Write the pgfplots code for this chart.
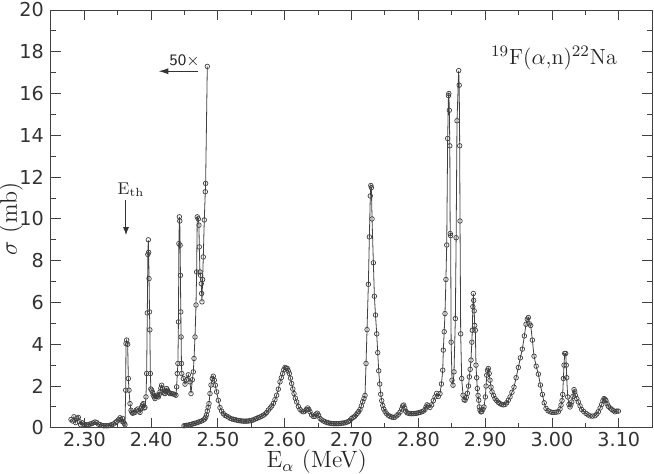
\documentclass[border=0pt]{standalone}
\usepackage{fontspec}
\usepackage{pgfplots}
\pgfplotsset{compat=1.18}
\usetikzlibrary{arrows.meta}
\newfontfamily\tickfont{DejaVu Sans}
\pgfplotstableread{
x y
2.2800 0.40
2.2824 0.33
2.2844 0.53
2.2869 0.25
2.2890 0.45
2.2909 0.50
2.2924 0.30
2.2944 0.15
2.2969 0.24
2.2990 0.18
2.3009 0.15
2.3034 0.14
2.3059 0.15
2.3084 0.18
2.3109 0.20
2.3134 0.24
2.3159 0.28
2.3184 0.25
2.3209 0.18
2.3234 0.15
2.3259 0.12
2.3284 0.10
2.3309 0.10
2.3334 0.10
2.3358 0.10
2.3383 0.12
2.3408 0.15
2.3433 0.18
2.3458 0.24
2.3483 0.30
2.3508 0.38
2.3533 0.48
2.3545 0.40
2.3558 0.32
2.3571 0.45
2.3583 0.28
2.3596 0.22
2.3608 0.15
2.3618 1.80
2.3623 4.03
2.3633 4.20
2.3648 4.00
2.3658 2.36
2.3668 1.80
2.3683 1.16
2.3698 0.84
2.3710 0.75
2.3723 0.70
2.3740 0.72
2.3758 0.74
2.3778 0.85
2.3798 0.90
2.3815 0.80
2.3833 0.74
2.3845 0.90
2.3858 1.00
2.3870 1.10
2.3882 1.16
2.3895 0.95
2.3907 0.98
2.3922 1.48
2.3932 2.60
2.3942 5.50
2.3950 8.30
2.3957 9.00
2.3962 8.40
2.3968 7.14
2.3975 5.55
2.3980 4.69
2.3988 2.60
2.3995 1.86
2.4007 1.80
2.4020 1.70
2.4032 1.56
2.4045 1.48
2.4057 1.40
2.4070 1.50
2.4082 1.56
2.4095 1.52
2.4107 1.48
2.4120 1.60
2.4132 1.72
2.4145 1.90
2.4157 2.04
2.4170 1.90
2.4182 1.72
2.4195 1.66
2.4207 1.64
2.4219 1.76
2.4231 1.88
2.4244 1.80
2.4256 1.72
2.4268 1.68
2.4281 1.64
2.4306 1.64
2.4331 1.62
2.4351 1.60
2.4371 1.56
2.4381 1.96
2.4391 2.60
2.4400 3.08
2.4408 5.07
2.4415 8.82
2.4422 10.10
2.4428 9.90
2.4433 8.74
2.4438 7.30
2.4443 5.55
2.4448 4.35
2.4453 3.08
2.4458 2.60
2.4481 2.36
2.4506 2.09
2.4531 2.30
2.4556 2.54
2.4581 2.20
2.4596 1.64
2.4616 2.30
2.4631 2.68
2.4641 3.32
2.4656 4.35
2.4671 5.88
2.4680 7.46
2.4690 10.10
2.4705 10.00
2.4715 9.70
2.4720 8.66
2.4730 7.46
2.4740 7.30
2.4750 6.90
2.4755 6.43
2.4760 6.03
2.4770 7.10
2.4780 8.18
2.4795 9.95
2.4810 11.30
2.4815 11.70
2.4840 17.30
}\lowdata
\pgfplotstableread{
x y
2.4491 0.10
2.4511 0.11
2.4531 0.12
2.4556 0.13
2.4581 0.15
2.4606 0.17
2.4631 0.20
2.4656 0.22
2.4680 0.24
2.4705 0.27
2.4730 0.30
2.4755 0.33
2.4780 0.37
2.4800 0.42
2.4815 0.50
2.4828 0.62
2.4840 0.80
2.4853 0.98
2.4865 1.16
2.4880 1.64
2.4895 2.05
2.4915 2.36
2.4930 2.47
2.4945 2.28
2.4960 2.04
2.4980 1.72
2.5005 1.32
2.5030 0.97
2.5055 0.80
2.5080 0.68
2.5105 0.60
2.5130 0.56
2.5155 0.52
2.5180 0.46
2.5205 0.43
2.5230 0.41
2.5254 0.39
2.5280 0.37
2.5305 0.35
2.5329 0.34
2.5355 0.33
2.5380 0.32
2.5405 0.32
2.5430 0.32
2.5455 0.33
2.5479 0.34
2.5505 0.36
2.5530 0.38
2.5555 0.42
2.5579 0.45
2.5605 0.49
2.5630 0.52
2.5655 0.56
2.5679 0.60
2.5705 0.66
2.5730 0.74
2.5754 0.85
2.5780 0.95
2.5805 1.05
2.5829 1.17
2.5853 1.35
2.5878 1.56
2.5903 1.85
2.5928 2.20
2.5948 2.40
2.5968 2.60
2.5985 2.78
2.6003 2.89
2.6020 2.86
2.6038 2.84
2.6053 2.72
2.6068 2.60
2.6085 2.38
2.6103 2.12
2.6120 1.86
2.6138 1.64
2.6158 1.42
2.6178 1.24
2.6203 1.02
2.6228 0.88
2.6255 0.80
2.6280 0.77
2.6302 0.80
2.6322 0.88
2.6342 0.95
2.6360 0.88
2.6377 0.77
2.6402 0.62
2.6427 0.55
2.6450 0.55
2.6470 0.66
2.6487 0.70
2.6505 0.60
2.6527 0.45
2.6552 0.38
2.6577 0.33
2.6602 0.29
2.6627 0.26
2.6652 0.24
2.6677 0.22
2.6702 0.21
2.6727 0.20
2.6752 0.20
2.6776 0.20
2.6801 0.20
2.6826 0.21
2.6851 0.22
2.6876 0.23
2.6901 0.24
2.6926 0.27
2.6951 0.30
2.6976 0.36
2.7001 0.45
2.7026 0.50
2.7046 0.55
2.7066 0.62
2.7086 0.70
2.7106 0.78
2.7126 0.88
2.7146 1.05
2.7166 1.25
2.7185 1.40
2.7201 1.55
2.7216 3.08
2.7231 4.70
2.7251 6.87
2.7266 9.14
2.7280 11.10
2.7288 11.60
2.7296 11.50
2.7306 10.00
2.7326 7.90
2.7341 6.30
2.7358 5.40
2.7376 4.50
2.7391 3.60
2.7406 2.73
2.7421 2.10
2.7436 1.61
2.7451 1.30
2.7466 1.07
2.7481 0.90
2.7501 0.78
2.7526 0.67
2.7551 0.60
2.7575 0.55
2.7600 0.52
2.7625 0.50
2.7650 0.51
2.7675 0.58
2.7700 0.65
2.7725 0.75
2.7750 0.90
2.7765 1.05
2.7780 1.09
2.7795 0.95
2.7810 0.80
2.7830 0.72
2.7850 0.70
2.7875 0.68
2.7900 0.68
2.7925 0.68
2.7950 0.69
2.7975 0.70
2.8000 0.72
2.8025 0.74
2.8050 0.77
2.8075 0.80
2.8100 0.88
2.8115 1.00
2.8130 1.10
2.8149 1.05
2.8174 0.98
2.8199 1.10
2.8224 1.30
2.8249 1.48
2.8274 1.65
2.8298 1.50
2.8323 1.64
2.8345 2.10
2.8364 2.76
2.8373 3.72
2.8386 4.60
2.8398 5.47
2.8412 7.10
2.8424 8.75
2.8438 13.85
2.8450 15.90
2.8456 16.00
2.8463 15.20
2.8470 13.50
2.8476 9.30
2.8483 9.20
2.8490 4.10
2.8503 2.28
2.8518 2.04
2.8533 2.68
2.8553 5.23
2.8565 9.10
2.8578 14.70
2.8603 17.10
2.8611 16.40
2.8618 13.50
2.8623 9.90
2.8633 4.50
2.8648 2.36
2.8668 1.56
2.8683 1.35
2.8698 1.32
2.8716 1.45
2.8733 1.65
2.8750 2.00
2.8763 2.44
2.8775 2.80
2.8787 3.24
2.8800 4.10
2.8807 4.67
2.8815 5.80
2.8822 6.43
2.8828 6.10
2.8835 5.60
2.8843 4.90
2.8852 4.67
2.8862 3.00
2.8872 2.40
2.8882 1.88
2.8893 1.55
2.8903 1.32
2.8912 1.00
2.8922 0.85
2.8935 0.77
2.8947 0.77
2.8965 0.88
2.8982 1.00
2.9002 1.48
2.9013 2.00
2.9023 2.52
2.9035 2.75
2.9047 2.84
2.9060 2.60
2.9072 2.28
2.9087 1.95
2.9102 1.72
2.9125 1.55
2.9147 1.40
2.9172 1.30
2.9197 1.22
2.9222 1.16
2.9247 1.12
2.9272 1.10
2.9297 1.12
2.9322 1.20
2.9346 1.32
2.9372 1.48
2.9400 1.70
2.9431 1.95
2.9463 2.40
2.9496 2.89
2.9526 3.35
2.9556 3.77
2.9586 4.40
2.9611 4.96
2.9630 5.20
2.9646 5.28
2.9660 4.98
2.9681 4.90
2.9706 4.20
2.9731 3.43
2.9763 2.95
2.9796 2.57
2.9826 2.05
2.9856 1.60
2.9883 1.20
2.9910 0.93
2.9940 0.82
2.9970 0.77
3.0000 0.74
3.0030 0.74
3.0062 0.75
3.0095 0.77
3.0120 0.90
3.0135 1.09
3.0150 1.30
3.0160 1.60
3.0170 2.36
3.0180 3.00
3.0190 3.56
3.0205 3.56
3.0213 3.00
3.0220 2.40
3.0235 1.48
3.0254 1.12
3.0269 1.00
3.0282 1.10
3.0295 1.24
3.0312 1.50
3.0330 1.83
3.0340 1.72
3.0349 1.56
3.0370 1.40
3.0394 1.24
3.0420 1.05
3.0444 0.88
3.0475 0.78
3.0509 0.69
3.0540 0.62
3.0569 0.57
3.0605 0.56
3.0644 0.58
3.0670 0.66
3.0693 0.77
3.0720 0.95
3.0744 1.12
3.0762 1.30
3.0778 1.40
3.0795 1.36
3.0808 1.30
3.0825 1.15
3.0843 1.03
3.0870 0.95
3.0894 0.88
3.0920 0.82
3.0943 0.77
3.0968 0.80
3.0993 0.80
}\maindata
\begin{document}
\begin{tikzpicture}
\begin{axis}[
  name=ax,
  scale only axis,
  width=300.75pt, height=209pt,
  xmin=2.25, xmax=3.15, ymin=0, ymax=20,
  xtick={2.3,2.4,2.5,2.6,2.7,2.8,2.9,3.0,3.1},
  minor xtick={2.35,2.45,2.55,2.65,2.75,2.85,2.95,3.05},
  ytick={0,2,4,6,8,10,12,14,16,18,20},
  minor ytick={1,3,5,7,9,11,13,15,17,19},
  tick align=inside,
  major tick length=5pt, minor tick length=2.5pt,
  axis line style={black!75, line width=0.5pt},
  every tick/.style={black!75, line width=0.5pt},
  /pgf/number format/assume math mode=true,
  tick label style={font=\tickfont\fontsize{9.6}{11}\selectfont, text=black!80},
  xticklabel style={inner sep=0.5pt, yshift=-1.5pt, /pgf/number format/.cd, fixed, fixed zerofill, precision=2},
  yticklabel style={/pgf/number format/.cd, fixed, precision=0},
  xlabel={E$_\alpha$ (MeV)},
  ylabel={$\sigma$ (mb)},
  every axis x label/.style={at={(axis description cs:0.442,-0.0947)}, anchor=base, inner sep=0pt, font=\fontsize{11.8}{14}\selectfont, text=black!85},
  every axis y label/.style={at={(axis description cs:-0.0665,0.5)}, anchor=center, rotate=90, font=\fontsize{12}{14}\selectfont, text=black!85},
  clip=false,
]
\addplot[black!75, line width=0.4pt, mark=o, mark size=1.15pt, mark options={line width=0.35pt}] table[x=x,y=y] {\lowdata};
\addplot[black!75, line width=0.4pt, mark=o, mark size=1.15pt, mark options={line width=0.35pt}] table[x=x,y=y] {\maindata};
\node[font=\fontsize{11}{13}\selectfont, text=black!85] at (axis cs:3.003,17.7) {$^{19}$F($\alpha$,n)$^{22}$Na};
\node[font=\sffamily\fontsize{8}{9}\selectfont, text=black!85] at (axis cs:2.4499,17.55) {50$\times$};
\draw[black!80, line width=0.6pt, -{Latex[length=5pt,width=3pt]}] (axis cs:2.4705,17.07) -- (axis cs:2.4106,17.07);
\node[font=\fontsize{8.5}{10}\selectfont, text=black!85] at (axis cs:2.3698,11.4) {E$_{\mathrm{th}}$};
\draw[black!80, line width=0.5pt, -{Latex[length=4pt,width=3pt]}] (axis cs:2.3623,10.89) -- (axis cs:2.3623,9.22);
\end{axis}
\pgfresetboundingbox
\path ([xshift=-25.5pt,yshift=-22.6pt]ax.south west) rectangle ([xshift=0.9pt,yshift=5pt]ax.north east);
\end{tikzpicture}
\end{document}
